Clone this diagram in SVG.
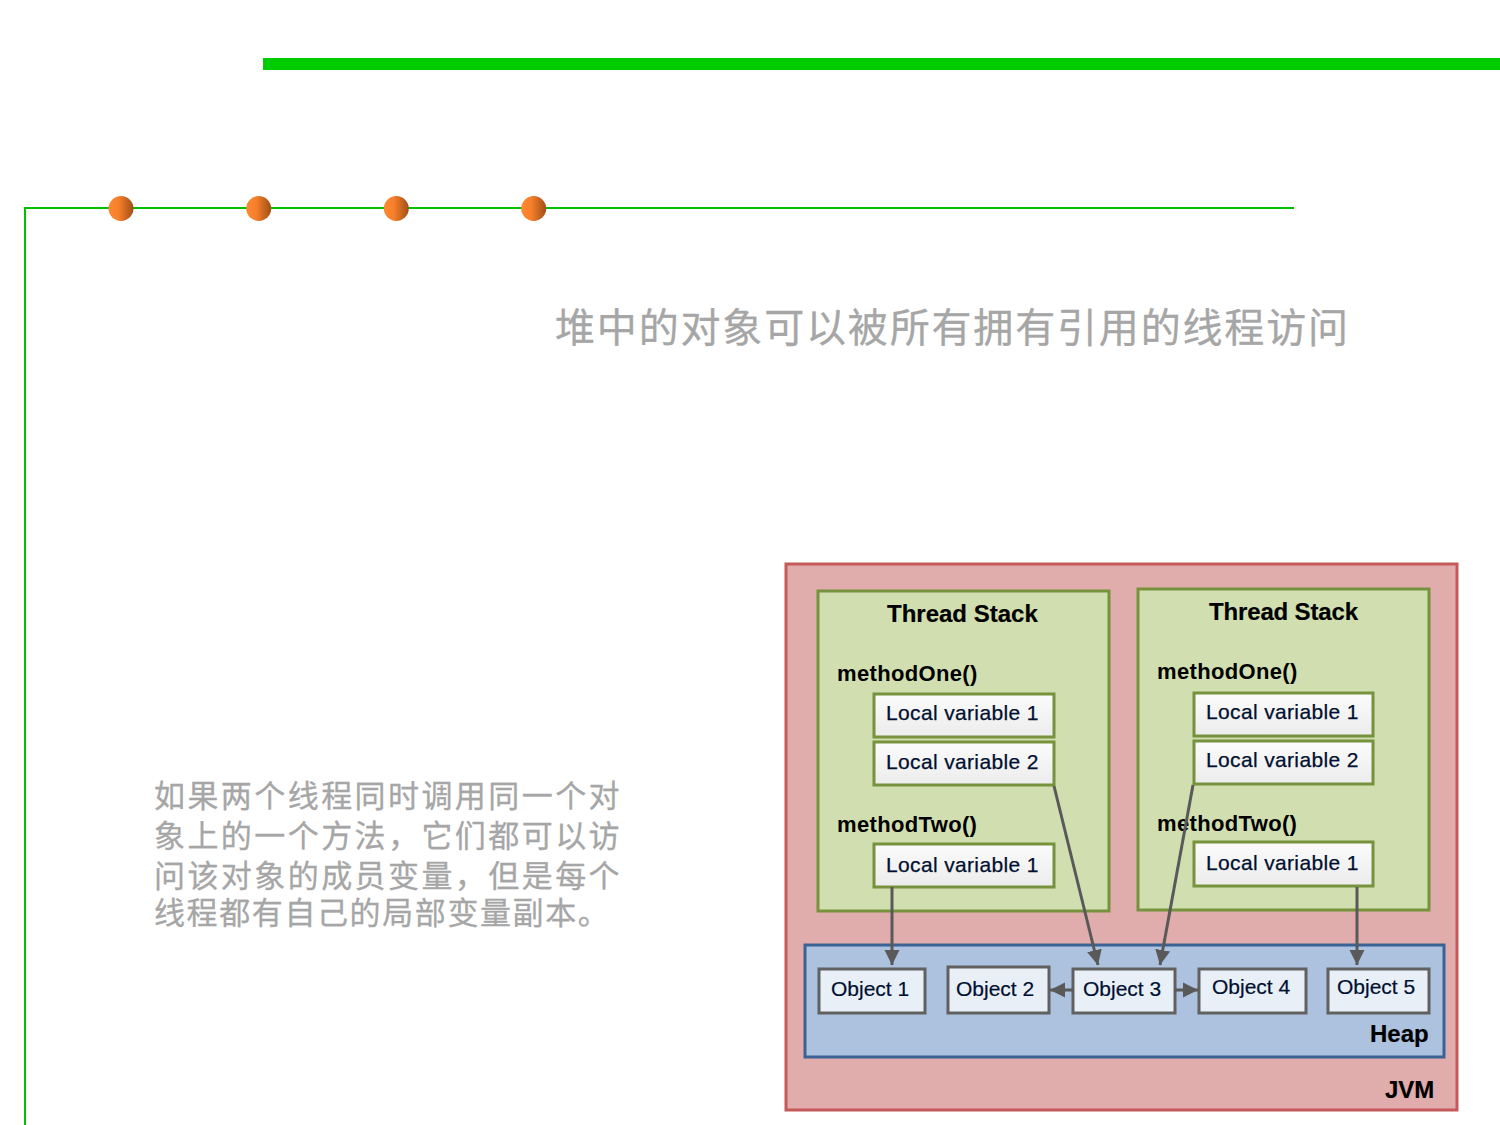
<svg xmlns="http://www.w3.org/2000/svg" width="1500" height="1125" viewBox="0 0 1500 1125">
<style>
text{font-family:"Liberation Sans",Arial,sans-serif}
.h{font-size:24px;font-weight:bold;fill:#000;stroke:#000;stroke-width:.2}
.m{font-size:22px;font-weight:bold;fill:#000;letter-spacing:.35px}
.v{font-size:21px;fill:#001030;letter-spacing:.35px;stroke:#001030;stroke-width:.25}
.o{font-size:21px;fill:#001030;stroke:#001030;stroke-width:.2}
.cn{font-family:"Noto Sans CJK SC","Liberation Sans",sans-serif;fill:#a6a6a6;stroke:#a6a6a6;stroke-width:.3}
.ts{fill:#d1dfb0;stroke:#76923c;stroke-width:3}
.lv{fill:url(#lg);stroke:#76923c;stroke-width:3}
.ob{fill:#e9eff7;stroke:#606060;stroke-width:3}
.c{fill:none;stroke:#595959;stroke-width:3}
.d{fill:url(#dot)}
</style>
<defs>
<linearGradient id="dot"><stop offset="0" stop-color="#ff8a33"/><stop offset=".4" stop-color="#f67f2b"/><stop offset="1" stop-color="#a04f16"/></linearGradient>
<linearGradient id="lg" x1="0" y1="0" x2="0" y2="1"><stop offset="0" stop-color="#fbfbfb"/><stop offset="1" stop-color="#ececec"/></linearGradient>
<marker id="ah" markerUnits="userSpaceOnUse" markerWidth="18" markerHeight="18" refX="15" refY="9" orient="auto"><path d="M0 1.500L15 9L0 16.500Z" fill="#595959"/></marker>
</defs>
<g id="decor">
<rect x="263" y="58" width="1237" height="12" fill="#00cc00"/>
<path d="M25 1125V208H1294" fill="none" stroke="#00c000" stroke-width="2"/>
<ellipse class="d" cx="121" cy="208.500" rx="12.500" ry="12.500"/>
<ellipse class="d" cx="258.700" cy="208.500" rx="12.500" ry="12.500"/>
<ellipse class="d" cx="396.300" cy="208.500" rx="12.500" ry="12.500"/>
<ellipse class="d" cx="533.700" cy="208.500" rx="12.500" ry="12.500"/>
</g>
<g id="title"><text class="cn" x="555" y="342" font-size="40" textLength="793" lengthAdjust="spacing">堆中的对象可以被所有拥有引用的线程访问</text></g>
<g id="body">
<text class="cn" font-size="31" letter-spacing="2.43"><tspan x="154" y="807">如果两个线程同时调用同一个对</tspan><tspan x="154" y="847">象上的一个方法，它们都可以访</tspan><tspan x="154" y="887">问该对象的成员变量，但是每个</tspan><tspan x="154" y="924" letter-spacing="1.6">线程都有自己的局部变量副本。</tspan></text>
</g>
<g id="jvm"><rect x="786" y="564" width="671" height="546" fill="#e1acac" stroke="#c55a5a" stroke-width="3"/><text class="h" x="1385" y="1098">JVM</text></g>
<g id="stack1">
<rect class="ts" x="818" y="591" width="291" height="320"/>
<text class="h" x="887" y="622">Thread Stack</text>
<text class="m" x="837" y="681">methodOne()</text>
<text class="m" x="837" y="832">methodTwo()</text>
</g>
<g id="s1v1"><rect class="lv" x="874" y="694" width="180" height="43"/><text class="v" x="886" y="720">Local variable 1</text></g>
<g id="s1v2"><rect class="lv" x="874" y="742" width="180" height="43"/><text class="v" x="886" y="769">Local variable 2</text></g>
<g id="s1v3"><rect class="lv" x="874" y="844" width="180" height="43"/><text class="v" x="886" y="872">Local variable 1</text></g>
<g id="stack2">
<rect class="ts" x="1138" y="589" width="291" height="321"/>
<text class="h" x="1209" y="620" textLength="149">Thread Stack</text>
<text class="m" x="1157" y="679">methodOne()</text>
<text class="m" x="1157" y="831">methodTwo()</text>
</g>
<g id="s2v1"><rect class="lv" x="1194" y="693" width="179" height="43"/><text class="v" x="1206" y="719">Local variable 1</text></g>
<g id="s2v2"><rect class="lv" x="1194" y="741" width="179" height="43"/><text class="v" x="1206" y="767">Local variable 2</text></g>
<g id="s2v3"><rect class="lv" x="1194" y="842" width="179" height="44"/><text class="v" x="1206" y="870">Local variable 1</text></g>
<g id="heap"><rect x="805" y="945" width="639" height="112" fill="#adc2df" stroke="#3a6294" stroke-width="3"/><text class="h" x="1370" y="1042">Heap</text></g>
<g id="obj1"><rect class="ob" x="819" y="969" width="106" height="44"/><text class="o" x="831" y="996">Object 1</text></g>
<g id="obj2"><rect class="ob" x="948" y="967" width="101" height="46"/><text class="o" x="956" y="996">Object 2</text></g>
<g id="obj3"><rect class="ob" x="1073" y="969" width="102" height="44"/><text class="o" x="1083" y="996">Object 3</text></g>
<g id="obj4"><rect class="ob" x="1199" y="969" width="107" height="44"/><text class="o" x="1212" y="994">Object 4</text></g>
<g id="obj5"><rect class="ob" x="1328" y="969" width="101" height="44"/><text class="o" x="1337" y="994">Object 5</text></g>
<g id="connectors">
<path class="c" marker-end="url(#ah)" d="M892 887V965"/>
<path class="c" marker-end="url(#ah)" d="M1054 786L1098 965"/>
<path class="c" marker-end="url(#ah)" d="M1193 785L1160 965"/>
<path class="c" marker-end="url(#ah)" d="M1357 887V965"/>
<path class="c" marker-end="url(#ah)" d="M1073 990H1050"/>
<path class="c" marker-end="url(#ah)" d="M1175 990H1198"/>
</g>
</svg>
